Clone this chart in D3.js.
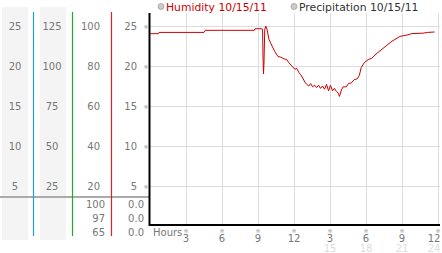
<!DOCTYPE html>
<html><head><meta charset="utf-8">
<script src="https://cdn.jsdelivr.net/npm/d3@7"></script>
<style>body{margin:0;background:#fff}svg{display:block}text{font-family:"DejaVu Sans",sans-serif}</style>
</head><body><svg id="c" width="442" height="253"></svg>
<script>
// ---- data ----
const hours = [0,0.7,0.75,4.5,4.6,8.7,8.75,9.25,9.38,9.42,9.46,9.5,9.56,9.64,9.75,9.92,10.17,10.4,10.66,10.9,11.16,11.4,11.57,11.82,12.07,12.23,12.4,12.56,12.73,12.9,13.06,13.22,13.39,13.55,13.72,13.88,14.05,14.21,14.38,14.55,14.71,14.88,15.04,15.21,15.37,15.54,15.7,15.79,15.95,16.1,16.36,16.53,16.78,17.02,17.27,17.44,17.6,17.85,18.18,18.51,18.84,19.17,19.5,19.83,20.17,20.5,20.83,21.16,21.49,21.82,22.73,23.14,23.72];
const humidity = [24.04,24.04,24.2,24.2,24.46,24.46,24.66,24.66,24.6,21,19,20.5,24.5,25,24.6,23.3,22.5,21.8,21.2,21.1,20.9,20.8,20.4,20.0,19.6,19.7,19.2,18.9,18.5,18.0,17.7,17.5,17.8,17.4,17.6,17.3,17.6,17.2,17.5,17.1,17.7,16.9,17.6,16.9,17.2,16.8,16.6,16.2,17.0,17.4,17.4,17.8,17.9,18.3,18.4,18.8,19.8,20.4,20.8,21.0,21.5,21.9,22.3,22.7,23.1,23.4,23.7,23.8,23.9,24.05,24.1,24.2,24.25];
const yTicks = [25,20,15,10,5];
const col1Labels = ["25","20","15","10","5"];
const col2Labels = ["125","100","75","50","25"];
const col3Labels = ["100","80","60","40","20"];
const col4Labels = ["25","20","15","10","5"];
const bottomCol3 = ["100","97","65"];
const bottomCol4 = ["0.0","0.0","0.0"];
const xTicks = [3,6,9,12,15,18,21,24];
const xLabels = ["3","6","9","12","3","6","9","12"];
const xLabels2 = ["","","","","15","18","21","24"];
const legend = [{name:"Humidity 10/15/11", color:"#cc0000"},{name:"Precipitation 10/15/11", color:"#333"}];

// ---- chart ----
const svg = d3.select("#c");
const x = d3.scaleLinear().domain([0,24]).range([150,438]);
const y = d3.scaleLinear().domain([0,25]).range([226,26]);
const fs = 10, gray = "#777";

// panel backgrounds
svg.append("rect").attr("x",2).attr("y",7).attr("width",26).attr("height",233).attr("fill","#f4f4f4");
svg.append("rect").attr("x",40).attr("y",7).attr("width",26).attr("height",233).attr("fill","#f4f4f4");

// grid
const g = svg.append("g");
g.selectAll(".hg").data(yTicks).join("line")
  .attr("x1",150).attr("x2",440).attr("y1",d=>y(d)+0.5).attr("y2",d=>y(d)+0.5)
  .attr("stroke","#ddd").attr("stroke-width",1);
g.selectAll(".vg").data(xTicks).join("line")
  .attr("x1",d=>Math.round(x(d))+0.5).attr("x2",d=>Math.round(x(d))+0.5).attr("y1",13).attr("y2",225)
  .attr("stroke","#ddd").attr("stroke-width",1);

// separator
svg.append("line").attr("x1",0).attr("x2",150).attr("y1",197).attr("y2",197).attr("stroke","#aaa").attr("stroke-width",2);

// vertical colored axes
[[33.5,"#1ea0d2"],[72.5,"#22aa22"],[111.5,"#dd2222"]].forEach(([xx,c])=>{
  svg.append("line").attr("x1",xx).attr("x2",xx).attr("y1",12).attr("y2",236).attr("stroke",c).attr("stroke-width",1.2);
});

// column labels
function col(labels, xx, anchor){
  svg.append("g").selectAll("text").data(labels).join("text")
    .attr("x",xx).attr("y",(d,i)=>y(yTicks[i])+4).attr("text-anchor",anchor)
    .attr("font-size",fs).attr("fill",gray).text(d=>d);
}
col(col1Labels,15,"middle");
col(col2Labels,52,"middle");
col(col3Labels,100,"end");
col(col4Labels,137,"end");
svg.append("g").selectAll("text").data(yTicks).join("text")
  .attr("x",146).attr("y",d=>y(d)+3).attr("text-anchor","middle").attr("font-size",6).attr("fill","#999").text("※");

svg.append("g").selectAll("text").data(bottomCol3).join("text")
  .attr("x",105).attr("y",(d,i)=>208+i*14).attr("text-anchor","end").attr("font-size",fs).attr("fill",gray).text(d=>d);
svg.append("g").selectAll("text").data(bottomCol4).join("text")
  .attr("x",144).attr("y",(d,i)=>208+i*14).attr("text-anchor","end").attr("font-size",fs).attr("fill",gray).text(d=>d);

// axes lines
svg.append("line").attr("x1",149.5).attr("x2",149.5).attr("y1",13).attr("y2",226).attr("stroke","#000").attr("stroke-width",2);
svg.append("line").attr("x1",149).attr("x2",440).attr("y1",225).attr("y2",225).attr("stroke","#000").attr("stroke-width",2);

// x ticks
svg.append("text").attr("x",153).attr("y",236).attr("font-size",fs).attr("fill",gray).text("Hours");
const xt = svg.append("g");
const lx = (i)=> Math.min(x(xTicks[i]), 434);
xt.selectAll(".m").data(xTicks).join("text").attr("x",d=>x(d)).attr("y",233).attr("text-anchor","middle")
  .attr("font-size",6).attr("fill","#999").text("※");
xt.selectAll(".l").data(xLabels).join("text").attr("x",(d,i)=>lx(i)).attr("y",242).attr("text-anchor","middle")
  .attr("font-size",fs).attr("fill",gray).text(d=>d);
xt.selectAll(".l2").data(xLabels2).join("text").attr("x",(d,i)=>lx(i)).attr("y",252).attr("text-anchor","middle")
  .attr("font-size",fs).attr("fill","#ddd").text(d=>d);

// line
const pts = hours.map((h,i)=>[h,humidity[i]]);
svg.append("path").datum(pts).attr("fill","none").attr("stroke","#cc0000").attr("stroke-width",1)
  .attr("d",d3.line().x(d=>x(d[0])).y(d=>y(d[1])));

// legend
const lg = svg.append("g");
[[161,0],[294,1]].forEach(([cx,i])=>{
  lg.append("circle").attr("cx",cx).attr("cy",6.5).attr("r",3).attr("fill","#ccc").attr("stroke","#999").attr("stroke-width",0.7);
  lg.append("text").attr("x",cx+5).attr("y",10.5).attr("font-size",10.8).attr("fill",legend[i].color).text(legend[i].name);
});
</script></body></html>
